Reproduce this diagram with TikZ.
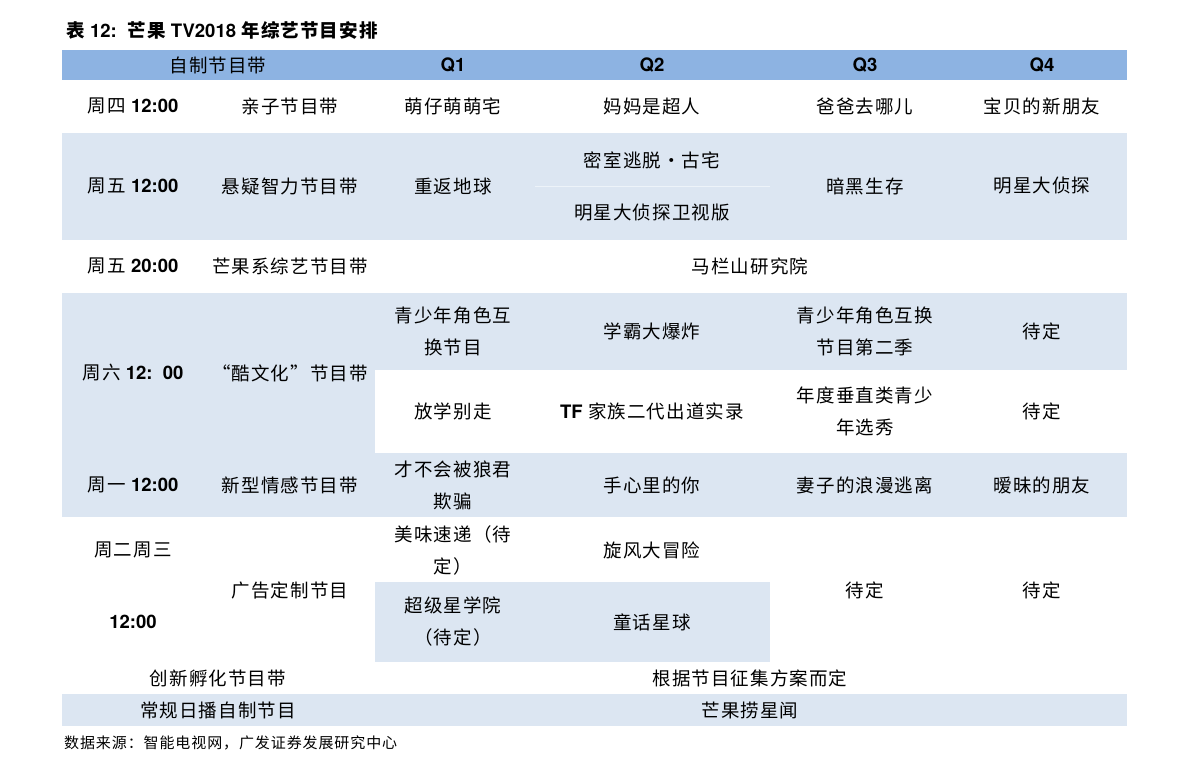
\documentclass[tikz,border=0pt]{standalone}
\usepackage{fontspec}
\setmainfont{TeX Gyre Heros}
\newfontfamily\cjk[LetterSpace=6]{Noto Sans CJK SC}
\definecolor{headblue}{HTML}{8DB3E2}
\definecolor{lightblue}{HTML}{DCE6F2}
\tikzset{
  cell/.style={font=\cjk\fontsize{18.5}{32}\selectfont, align=center, inner sep=0pt},
  num/.style={font=\bfseries\fontsize{18.5}{32}\selectfont, inner sep=0pt},
}
\newcommand{\nm}[1]{{\normalfont\bfseries #1}}
\begin{document}
\begin{tikzpicture}[x=1pt,y=-1pt]
            \useasboundingbox (0,0) rectangle (1191,774);
            % fills
            \fill[headblue] (62,50) rectangle (1127,80);
            \fill[lightblue] (62,133) rectangle (1127,240);
            \fill[lightblue] (62,293) rectangle (375,517);
            \fill[lightblue] (375,293) rectangle (1127,370);
            \fill[lightblue] (375,453) rectangle (1127,517);
            \fill[lightblue] (375,582) rectangle (770,662);
            \fill[lightblue] (62,694) rectangle (1127,726);
            \draw[white!50!lightblue,thin] (535,186) -- (770,186);
            % title
            \node[cell,anchor=west] (title) at (66,30) {\bfseries 表 \nm{12:}\ \ 芒果 \nm{TV2018} 年综艺节目安排};
            % header
            \node[cell] (hd) at (218,65) {自制节目带};
            \node[num] (q1) at (453,65) {Q1};
            \node[num] (q2) at (652,65) {Q2};
            \node[num] (q3) at (865,65) {Q3};
            \node[num] (q4) at (1042,65) {Q4};
            % row 1
            \node[cell] (t1) at (133,106) {周四 \nm{12:00}};
            \node[cell] (b1) at (290,106) {亲子节目带};
            \node[cell] (a11) at (453,106) {萌仔萌萌宅};
            \node[cell] (a12) at (652,106) {妈妈是超人};
            \node[cell] (a13) at (865,106) {爸爸去哪儿};
            \node[cell] (a14) at (1042,106) {宝贝的新朋友};
            % row 2
            \node[cell] (t2) at (133,186) {周五 \nm{12:00}};
            \node[cell] (b2) at (290,186) {悬疑智力节目带};
            \node[cell] (a21) at (453,186) {重返地球};
            \node[cell] (a22) at (652,160) {密室逃脱·古宅};
            \node[cell] (a22b) at (652,213) {明星大侦探卫视版};
            \node[cell] (a23) at (865,186) {暗黑生存};
            \node[cell] (a24) at (1042,186) {明星大侦探};
            % row 3
            \node[cell] (t3) at (133,266) {周五 \nm{20:00}};
            \node[cell] (b3) at (290,266) {芒果系综艺节目带};
            \node[cell] (a3) at (750,266) {马栏山研究院};
            % row 4
            \node[cell] (t4) at (133,373) {周六 \nm{12:\ \ 00}};
            \node[cell] (b4) at (290,373) {“酷文化”节目带};
            \node[cell] (a41) at (453,331) {青少年角色互\\换节目};
            \node[cell] (a42) at (652,331) {学霸大爆炸};
            \node[cell] (a43) at (865,331) {青少年角色互换\\节目第二季};
            \node[cell] (a44) at (1042,331) {待定};
            \node[cell] (a45) at (453,411) {放学别走};
            \node[cell] (a46) at (652,411) {\nm{TF} 家族二代出道实录};
            \node[cell] (a47) at (865,411) {年度垂直类青少\\年选秀};
            \node[cell] (a48) at (1042,411) {待定};
            % row 5
            \node[cell] (t5) at (133,485) {周一 \nm{12:00}};
            \node[cell] (b5) at (290,485) {新型情感节目带};
            \node[cell] (a51) at (453,485) {才不会被狼君\\欺骗};
            \node[cell] (a52) at (652,485) {手心里的你};
            \node[cell] (a53) at (865,485) {妻子的浪漫逃离};
            \node[cell] (a54) at (1042,485) {暧昧的朋友};
            % row 6
            \node[cell] (t6) at (133,550) {周二周三};
            \node[num] (t6b) at (133,622) {12:00};
            \node[cell] (b6) at (290,590) {广告定制节目};
            \node[cell] (a61) at (453,550) {美味速递（待\\定）};
            \node[cell] (a62) at (652,550) {旋风大冒险};
            \node[cell] (a63) at (453,622) {超级星学院\\（待定）};
            \node[cell] (a64) at (652,622) {童话星球};
            \node[cell] (a65) at (865,590) {待定};
            \node[cell] (a66) at (1042,590) {待定};
            % last rows
            \node[cell] (b7) at (218,678) {创新孵化节目带};
            \node[cell] (a7) at (750,678) {根据节目征集方案而定};
            \node[cell] (b8) at (218,710) {常规日播自制节目};
            \node[cell] (a8) at (750,710) {芒果捞星闻};
            % source
            \node[cell,anchor=west,font=\cjk\fontsize{15}{16}\selectfont] (src) at (64,743) {数据来源：智能电视网，广发证券发展研究中心};
\end{tikzpicture}
\end{document}
